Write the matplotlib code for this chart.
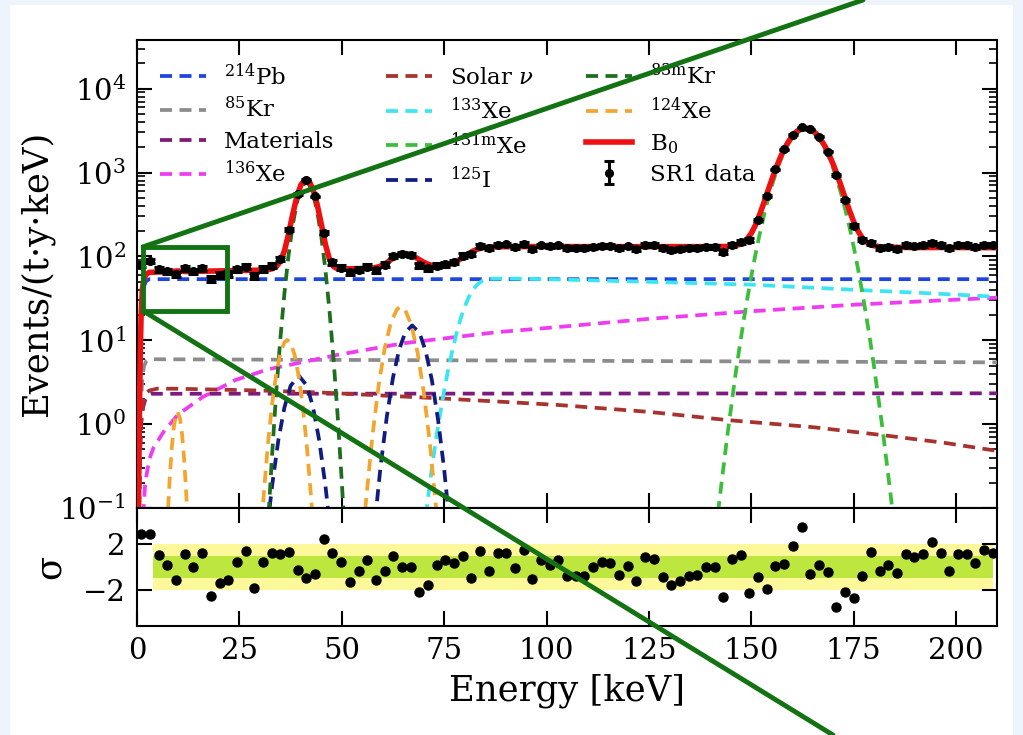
import numpy as np
import matplotlib
matplotlib.use("Agg")
import matplotlib.pyplot as plt
from matplotlib.patches import Rectangle, ConnectionPatch
from matplotlib.ticker import MultipleLocator, FixedLocator, FixedFormatter

plt.rcParams['font.family'] = 'DejaVu Serif'
plt.rcParams['mathtext.fontset'] = 'dejavuserif'

# ---------------- data ----------------
# 99 energy bins of equal width between 0 and 210 keV
bin_edges = np.linspace(0, 210, 100)
bin_centers = 0.5 * (bin_edges[1:] + bin_edges[:-1])

data_rate = [80, 88, 70.4, 66.3, 61.1, 71.7, 66.2, 72.5, 54.2, 60.1,
             61.6, 69.9, 75.1, 59.0, 70.8, 77.1, 93.6, 207.3, 553.5, 815.4,
             517.7, 191.0, 85.0, 73.3, 64.5, 69.7, 75.3, 67.9, 79.2, 101.8,
             107.8, 104.4, 78.3, 72.0, 77.2, 80.6, 85.8, 102.3, 106.5, 134.6,
             127.1, 138.4, 139.0, 129.9, 141.2, 123.2, 135.0, 132.0, 134.9, 124.9,
             125.4, 125.2, 130.7, 133.6, 132.8, 125.8, 131.4, 122.1, 136.4, 135.7,
             124.7, 119.4, 122.3, 125.2, 125.9, 130.3, 130.3, 112.8, 137.4, 148.4,
             155.8, 272.2, 524.8, 1087.2, 1898.6, 2825.5, 3457.5, 3274.4, 2667.4, 1766.2,
             932.0, 472.8, 232.1, 158.8, 145.9, 126.9, 129.3, 124.0, 136.0, 133.9,
             135.8, 143.2, 136.1, 125.6, 135.7, 135.7, 129.6, 137.6, 135.4]
rate_to_counts = 2.7  # events per unit rate in one bin, sets the error bars

residuals = [2.88, 2.88, 1.07, 0.19, -1.17, 1.13, -0.01, 1.22, -2.52, -1.41,
             -1.17, 0.43, 1.42, -1.85, 0.43, 1.19, 1.13, 1.33, -0.24, -1.0,
             -0.59, 2.44, 1.22, 0.43, -1.29, -0.33, 0.66, -1.12, -0.33, 0.98,
             0.02, 0.02, -2.22, -1.56, 0.19, 0.58, 0.31, 1.01, -1.0, 1.42,
             -0.36, 1.19, 1.19, -0.12, 1.51, -1.06, 0.60, 0.17, 0.60, -0.83,
             -0.75, -0.77, 0.02, 0.43, 0.31, -0.68, 0.11, -1.23, 0.84, 0.72,
             -0.86, -1.61, -1.2, -0.77, -0.68, -0.04, -0.04, -2.6, 0.69, 1.04,
             -2.31, -0.86, -1.9, 0.11, 0.25, 1.86, 3.49, -0.59, 0.14, -0.42,
             -3.54, -2.22, -2.72, -0.77, 1.33, -0.36, 0.19, -0.53, 1.13, 0.84,
             1.13, 2.2, 1.19, -0.33, 1.16, 1.16, 0.31, 1.48, 1.19]

pb214_E = [0.3, 0.45, 0.6, 0.8, 1.0, 1.3, 1.7, 2.2, 3, 210]
pb214_y = [0.04, 0.25, 1.2, 5.5, 16.5, 32.5, 44, 50.5, 53.5, 53.5]

kr85_E = [0.3, 0.45, 0.6, 0.8, 1.0, 1.3, 1.7, 2.2, 3, 50, 100, 150, 210]
kr85_y = [0.004, 0.03, 0.13, 0.6, 1.8, 3.6, 4.9, 5.6, 5.94, 5.83, 5.71, 5.59, 5.45]

materials_E = [0.5, 0.7, 1.0, 1.5, 2.0, 2.5, 3.0, 3.5, 210]
materials_y = [0.1, 0.4, 1.0, 1.6, 1.95, 2.15, 2.25, 2.3, 2.33]

xe136_E = [1.5, 2, 3, 4, 6.5, 10, 16, 24, 32, 49, 65, 88, 103, 125, 149, 175, 210]
xe136_y = [0.08, 0.2, 0.38, 0.52, 0.81, 1.3, 2.1, 3.35, 4.5, 6.7, 9.2, 12.5, 14.4,
           18, 22, 26.5, 32.2]

solar_E = [0.5, 0.7, 1.0, 1.5, 2.0, 2.5, 3.0, 5, 10, 20, 32, 45, 57, 73, 88, 103,
           125, 144, 165, 182, 197, 210]
solar_y = [0.1, 0.42, 1.1, 1.75, 2.15, 2.4, 2.52, 2.65, 2.64, 2.58, 2.5, 2.38, 2.23,
           2.04, 1.86, 1.69, 1.4, 1.12, 0.92, 0.74, 0.6, 0.48]

xe133_E = [70.5, 72, 73, 74, 75, 76, 77, 78, 79, 80, 81, 82, 83, 84, 85, 86, 88, 92,
           100, 110, 130, 150, 175, 195, 210]
xe133_y = [0.08, 0.3, 0.65, 1.3, 2.5, 4.5, 7.5, 12, 18, 25, 32.5, 40, 45.5, 50, 52.5,
           54, 54.2, 54.3, 53.5, 52, 49, 46, 40, 36, 33]

xe131m_E = [141, 142, 144, 146, 147, 148, 149, 150, 151, 152, 153, 154, 155, 156, 157,
            158, 159, 160, 161, 162, 163, 164, 165, 166, 167, 168, 169, 170, 171, 172,
            173, 174, 175, 176, 177, 178, 179, 180, 182, 184, 185, 186]
xe131m_y = [0.03, 0.1, 0.64, 3.47, 7.5, 15.5, 30.8, 58, 104.4, 180, 294, 461, 690, 985,
            1344, 1749, 2174, 2580, 2923, 3162, 3268, 3222, 3034, 2727, 2341, 1919,
            1501, 1122, 800, 545, 354, 220, 130.7, 73.8, 39.8, 20.5, 10.1, 4.77, 0.92,
            0.147, 0.055, 0.02]

i125_E = [31, 32, 33, 34.5, 36, 37.5, 39.5, 41.5, 43, 44.5, 46, 47, 48,
          57, 58, 59.5, 61, 62.5, 64, 65.5, 67.2, 69, 70.5, 72, 73.5, 75, 76.5, 77.5]
i125_y = [0.02, 0.068, 0.186, 0.637, 1.58, 2.86, 3.8, 2.86, 1.58, 0.637, 0.186, 0.068,
          0.02, 0.015, 0.062, 0.32, 1.23, 3.57, 7.71, 12.4, 15, 12.2, 7.4, 3.36, 1.14,
          0.29, 0.054, 0.015]

kr83m_E = [31, 32, 33, 34, 35, 36, 37, 38, 39, 40, 41, 41.5, 42, 43, 44, 45, 46, 47,
           48, 49, 50, 51]
kr83m_y = [0.01, 0.065, 0.44, 2.4, 10.4, 36.4, 102.8, 233, 429, 633, 753, 757, 721,
           556, 345, 172.9, 69.6, 22.6, 5.9, 1.25, 0.21, 0.029]

xe124_E = [7, 7.5, 8, 8.5, 9, 9.5, 9.9, 10.5, 11, 11.5, 12, 12.5, 13,
           29.5, 30, 31, 32, 33, 34, 35, 36, 36.7, 37.5, 38.5, 39.5, 40.5, 41.5, 42.5,
           43.5, 44, 54.5, 55, 56, 57.5, 59, 60.5, 62, 63.5, 64.4, 65.5, 67, 68.5, 70,
           71.5, 73, 74, 74.5]
xe124_y = [0.02, 0.079, 0.23, 0.53, 0.93, 1.29, 1.4, 1.17, 0.76, 0.39, 0.155, 0.048,
           0.012, 0.01, 0.032, 0.156, 0.6, 1.75, 3.97, 6.98, 9.48, 10.1, 9.3, 6.67, 3.7,
           1.59, 0.53, 0.136, 0.027, 0.01, 0.01, 0.036, 0.134, 0.73, 2.88, 8.1, 16.3,
           23.5, 25, 22.9, 15.2, 7.2, 2.45, 0.6, 0.104, 0.027, 0.01]

b0_E = [0.3, 0.45, 0.6, 0.8, 1.0, 1.3, 1.7, 2.2, 3, 5, 7, 8, 9, 9.9, 11, 12, 14, 20,
        25, 29, 30, 31, 32, 33, 34, 35, 36, 37, 38, 39, 40, 41, 41.5, 42, 43, 44, 45,
        46, 47, 48, 49, 50, 52, 55, 57, 58, 59, 60, 61, 62, 63, 64, 65, 66, 67, 68, 69,
        70, 71, 72, 73, 74, 75, 76, 77, 78, 79, 80, 81, 82, 83, 84, 85, 86, 88, 92, 100,
        120, 140, 144, 146, 147, 148, 149, 150, 151, 152, 153, 154, 155, 156, 157, 158,
        159, 160, 161, 162, 163, 164, 165, 166, 167, 168, 169, 170, 171, 172, 173, 174,
        175, 176, 177, 178, 179, 180, 182, 185, 190, 200, 210]
b0_y = [0.05, 0.3, 1.5, 7, 20, 40, 54, 61, 64.5, 65.1, 65.3, 65.6, 66.4, 67.0, 66.5,
        65.9, 66.2, 67.1, 67.8, 68.4, 68.5, 68.8, 69.4, 71.2, 75.6, 87.1, 116.4, 184.2,
        313.4, 507, 708.3, 826, 829.6, 793, 627, 415.3, 242.8, 139.3, 92.3, 75.6, 71.05,
        71.0, 71.1, 71.6, 72.2, 73.2, 75.1, 78.7, 84.2, 91.4, 99.0, 105.2, 108.2, 107.5,
        103.4, 97.4, 91.0, 85.2, 80.9, 78.0, 76.6, 76.35, 77.2, 79.15, 82.2, 86.8, 93,
        100.1, 107.75, 115.4, 121, 125.6, 128.2, 129.8, 130.1, 130.7, 130.8, 130.6,
        130.6, 131.2, 134.1, 138, 146.1, 161.3, 188.6, 235, 310.6, 424.6, 591.6, 820.6,
        1115.5, 1474, 1879, 2304, 2710, 3053, 3292, 3398, 3352, 3164, 2857, 2471, 2049,
        1631, 1252, 929, 674, 483, 349, 259.7, 202.8, 168.7, 149.4, 138.9, 133.5, 129.4,
        128.2, 127.5, 127.7, 126.8]

band_E = [4, 209]

components = [
    (r'$^{214}$Pb', pb214_E, pb214_y, '#1f45e0'),
    (r'$^{85}$Kr', kr85_E, kr85_y, '#8c8c8c'),
    ('Materials', materials_E, materials_y, '#7d1a7d'),
    (r'$^{136}$Xe', xe136_E, xe136_y, '#f03cf0'),
    (r'Solar $\nu$', solar_E, solar_y, '#a8322d'),
    (r'$^{133}$Xe', xe133_E, xe133_y, '#3ce6f0'),
    (r'$^{131\mathrm{m}}$Xe', xe131m_E, xe131m_y, '#3cbe3c'),
    (r'$^{125}$I', i125_E, i125_y, '#101c80'),
    (r'$^{83\mathrm{m}}$Kr', kr83m_E, kr83m_y, '#1e6e1e'),
    (r'$^{124}$Xe', xe124_E, xe124_y, '#f2a630'),
]

# ---------------- figure ----------------
W, H = 1023, 735
fig = plt.figure(figsize=(W / 100, H / 100), dpi=100, facecolor='#eef4fb')
fig.patches.append(Rectangle((10 / W, 0), 1003 / W, 1 - 5 / H, transform=fig.transFigure,
                             facecolor='white', edgecolor='none', zorder=-10))

ax = fig.add_axes([137 / W, 1 - 508 / H, 860 / W, 468 / H])
ax2 = fig.add_axes([137 / W, 1 - 626 / H, 860 / W, 118 / H], sharex=ax)

for name, e, y, color in components:
    ax.plot(e, y, ls='--', dashes=(3.2, 2.0), lw=2.7, color=color, label=name, zorder=3)

ax.plot(b0_E, b0_y, color='#ee1111', lw=4, label='B$_0$', zorder=5)

data_rate = np.array(data_rate)
data_err = np.sqrt(data_rate / rate_to_counts)
ax.errorbar(bin_centers, data_rate, yerr=data_err, fmt='o', color='black', ms=5.5,
            elinewidth=2.2, capsize=3.5, capthick=2.2, label='SR1 data', zorder=6)

ax.set_yscale('log')
ax.set_xlim(0, 210)
ax.set_ylim(0.1, 3.8e4)
ax.xaxis.set_major_locator(MultipleLocator(25))
ax.tick_params(which='both', direction='in', top=True, right=True, width=1.5)
ax.tick_params(which='major', length=10.5, labelsize=21, pad=8)
ax.tick_params(which='minor', length=5.5, width=1.2)
ax.tick_params(axis='x', labelbottom=False)
ax.set_ylabel('Events/(t·y·keV)', fontsize=25.5)
ax.yaxis.set_label_coords(-0.097, 0.5)
for s in ax.spines.values():
    s.set_linewidth(1.5)

ax.legend(ncol=3, loc='upper left', bbox_to_anchor=(0.0, 1.0), frameon=False,
          fontsize=16.5, columnspacing=2.25, handlelength=2.0, handletextpad=0.8,
          labelspacing=0.35, borderaxespad=0.6)

# residual panel
ax2.fill_between(band_E, -2, 2, color='#fdf99a', lw=0, zorder=1)
ax2.fill_between(band_E, -1, 1, color='#bde63e', lw=0, zorder=2)
ax2.plot(bin_centers, residuals, 'o', color='black', ms=6.5, zorder=4)
ax2.set_ylim(-5.2, 5.2)
ax2.yaxis.set_major_locator(FixedLocator([-2, 2]))
ax2.yaxis.set_major_formatter(FixedFormatter(['\u22122', '2']))
ax2.tick_params(which='both', direction='in', top=True, right=True, width=1.5)
ax2.tick_params(which='major', length=10.5, labelsize=21, pad=8)
ax2.set_xlabel('Energy [keV]', fontsize=25.5, labelpad=6)
ax2.set_ylabel('σ', fontsize=25.5)
ax2.yaxis.set_label_coords(-0.082, 0.5)
for s in ax2.spines.values():
    s.set_linewidth(1.5)

# zoom indicator
zoom_color = '#137313'
ax.add_patch(Rectangle((1.5, 22.4), 20.4, 130 - 22.4, fill=False, edgecolor=zoom_color,
                       lw=3.5, zorder=10))
for corner, end in [((1.5, 130), (863 / W, 1.0)), ((1.5, 22.4), (833 / W, 0.0))]:
    fig.add_artist(ConnectionPatch(xyA=corner, coordsA=ax.transData, xyB=end,
                                   coordsB=fig.transFigure, color=zoom_color, lw=3.5,
                                   zorder=20))

fig.savefig('out.png', dpi=100, facecolor=fig.get_facecolor())
